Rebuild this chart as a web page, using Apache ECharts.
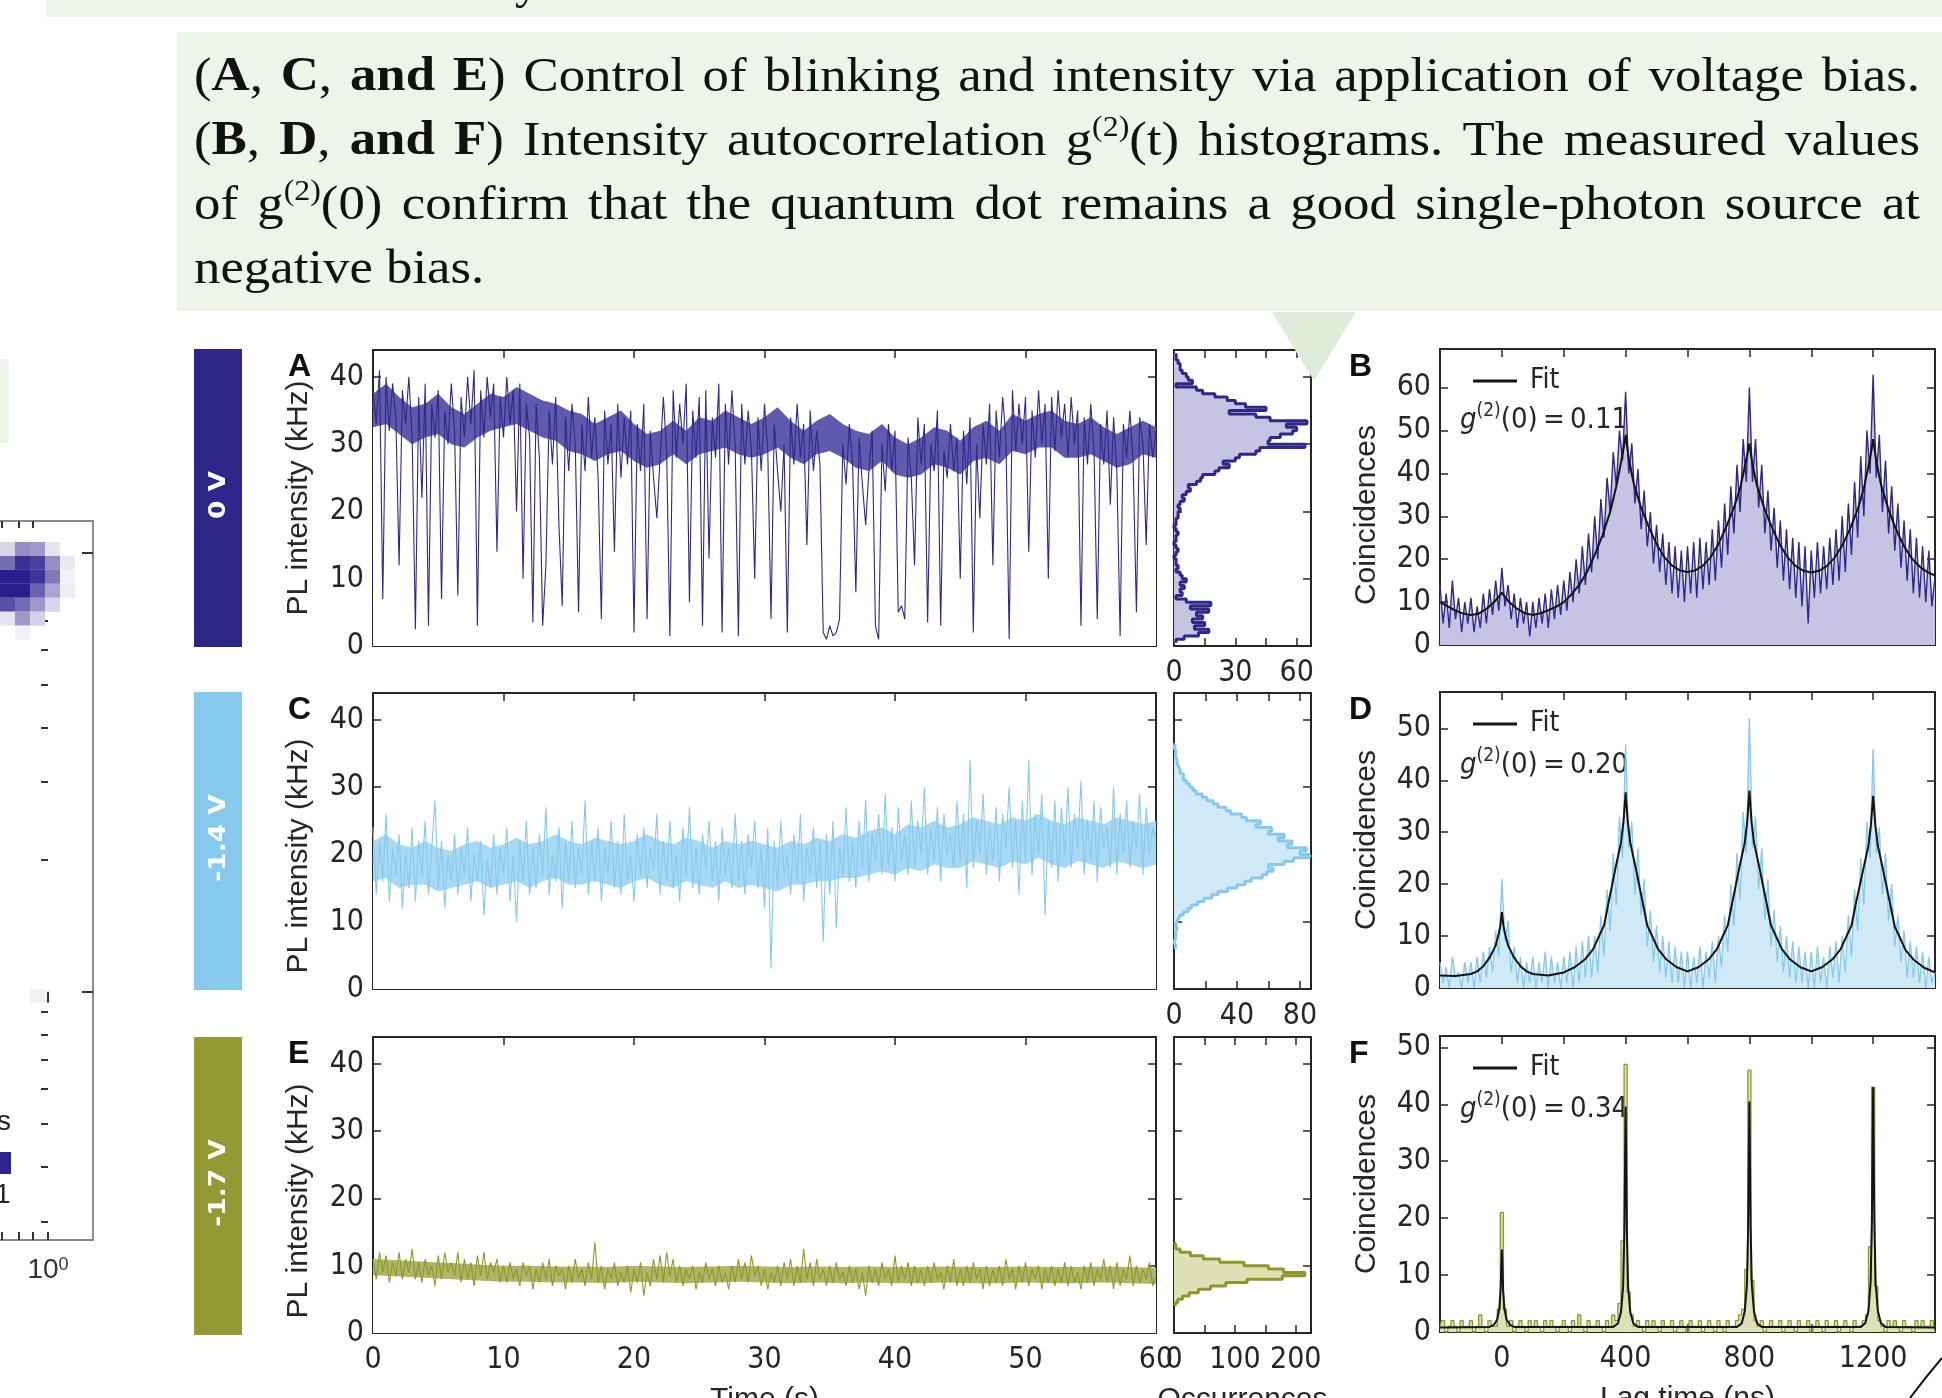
<!DOCTYPE html>
<html>
<head>
<meta charset="utf-8">
<script src="https://cdn.jsdelivr.net/npm/echarts@6/dist/echarts.min.js"></script>
<style>
html, body { margin: 0; padding: 0; background: #fff; }
#main { width: 1942px; height: 1398px; }
</style>
</head>
<body>
<div id="main"></div>
<script>
// ---- values ----
// PL intensity traces (kHz), one sample every 0.25 s from 0 to 60 s
var traceA = [
  38,33,41,7,40,32,39,34,12,38, 33,40,31,2.5,37,22,39,3,36,31,
  38,7,35,30,39,32,7.5,37,31,40, 33,41,3,38,31,40,34,39,14,37,
  31,40,33,38,20,39,10,36,31,3.5, 36,28,3,12,35,27,37,18,6,34,
  26,36,30,5,33,26,37,28,34,25, 4,35,27,33,14,36,25,34,27,35,
  2,33,26,36,4,32,25,19,28,37, 29,1.5,38,28,36,30,39,6.5,35,28,
  37,3,38,13,34,28,39,2,36,27, 38,30,1.5,36,27,35,29,10,34,26,
  36,29,4,33,26,20,30,2,34,27, 36,28,33,15,35,26,32,27,2,1,
  3,1.5,2,4,30,24,33,27,8,31, 24,18,26,32,3,1,30,23,33,26,
  32,5,6,4,31,25,12,34,27,33, 3.5,30,26,35,3,29,25,33,26,31,
  10,32,24,34,2,30,19,33,27,36, 12,35,28,37,31,1,38,29,36,30,
  37,14,35,28,38,30,36,10,37,29, 38,31,36,28,37,30,35,3,34,27,
  36,29,4,33,27,35,21,34,26,1.5, 33,28,35,27,5,34,30,15,33,28,
  32
];
var traceC = [
  24,14,22,16,26,13,21,17,23,12, 20,15,24,13,22,17,25,14,21,28,
  15,22,12,20,16,23,14,21,17,24, 13,20,16,22,11,19,15,23,14,21,
  17,24,13,20,10,22,16,25,14,21, 15,23,17,27,14,20,16,24,12,22,
  16,25,15,21,17,28,14,22,16,24, 13,21,17,25,15,22,14,26,16,20,
  13,23,17,24,15,21,18,26,14,22, 16,25,15,20,13,24,17,27,15,21,
  14,23,18,25,16,22,13,24,17,21, 15,26,16,22,14,23,18,25,15,21,
  12,24,3,22,15,25,17,20,14,23, 16,26,13,21,17,24,15,22,7,23,
  14,25,9,21,17,27,16,22,15,25, 18,28,16,23,19,26,17,29,18,24,
  16,27,19,23,17,28,18,25,20,30, 17,24,19,27,16,26,20,23,18,28,
  19,26,15,34,18,25,20,29,17,24, 19,27,16,26,21,30,18,25,14,28,
  19,34,17,26,20,29,11,25,18,28, 16,27,20,30,18,26,21,31,17,25,
  19,28,16,27,21,24,18,30,17,26, 20,28,18,25,21,29,17,27,20,24,
  22
];
var traceE = [
  11,8,12,9,11.5,7.5,10.5,8.5,12,8, 11,9,12.5,8,10.5,7.5,11,8.5,10,7,
  11.5,8,12,9,10.5,8.5,12,7.5,11,8, 10.5,7,11.5,8.5,12,8,10.5,9,11,7.5,
  10,7.5,10.5,8,9.5,7,10.5,8.5,10,6.5, 9.5,7.5,10.5,8,11,7,10,8.5,9.5,6.5,
  10,7.5,11,8,9.5,7,10.5,8,13.5,7.5, 10,6.5,9.5,8,10.5,7,9,7.5,10,6,
  9.5,7.5,10.5,5.5,9,7,11,8,11.5,7.5, 12,8.5,11,7.5,10,7,9.5,8,10,6.5,
  9,7.5,10.5,8,9.5,7,10,7.5,9,6.5, 10,7.5,11,8,10.5,7.5,11.5,8.5,10,7,
  9.5,6.5,9,7.5,10,7,10.5,8,11,7, 10,7.5,12.5,8,10.5,7,11,8,9.5,7,
  10,7.5,10.5,8,9,7,10,7.5,9.5,6.5, 9,5.5,10,7.5,9.5,7,10.5,8,9.5,7,
  11.5,7.5,10,8,10.5,7,10,7.5,9.5,7, 10,7.5,10.5,8,9,6.5,10,7.5,11,7,
  9.5,7,10,7.5,10.5,8,9.5,6.5,10,7, 9.5,7.5,10,7,11,8,9.5,6.5,10,7.5,
  10.5,7,9.5,8,10,6.5,9.5,7.5,10,7, 9.5,7.5,10.5,7,10,7.5,9,6.5,10,7.5,
  10.5,7,9.5,8,11,7.5,10,6.5,10.5,7, 9.5,8,11.5,7,10,7.5,9.5,8,10.5,7,
  8.5
];
// dense core of each trace (kHz): A and C every 1 s, E every 2 s, from 0 to 60 s
var coreHiA = [37.5,39,37,35.5,36,37.5,35.5,34.5,36,37.5, 37,38.5,37.5,36.5,36,35,34.5,33,34,35,
  33,31.5,32,33.5,32,34,33.5,35,34,33, 34,35.5,33.5,32,33.5,34.5,33,32,31.5,33,
  31,30,31,32.5,32,30.5,32.5,33.5,32,34.5, 33.5,34.5,35,33.5,33,34,32.5,31.5,32.5,33.5, 32.5];
var coreLoA = [32.5,33,31.5,30,31,31.5,30,29.5,31,32, 32.5,33,32,31,30.5,29,28.5,27.5,28.5,29,
  27.5,26.5,27,28.5,27,28.5,29,29.5,28.5,28, 28.5,29.5,28,27,28.5,29,28,26.5,26,27.5,
  25.5,25,25.5,27,26.5,25.5,27.5,28,27,29, 28.5,29.5,29.5,28,28,28.5,27.5,26.5,27,28.5, 28];
var coreHiC = [22,23,21.5,21,22,21,20.5,21.5,22,21, 21.5,22.5,21.5,22,23,22,21.5,22.5,22,21.5,
  22,23,22,21.5,22.5,22,21,22,21.5,22, 21.5,21,22,21.5,22.5,22,23,22.5,23.5,24,
  23,24.5,24,25,24,24.5,25.5,25,24.5,25.5, 25,26,25,24.5,25.5,25,24.5,25.5,25,24.5, 25];
var coreLoC = [16,16.5,15,15.5,15.5,14.5,15,15.5,16,15, 15.5,16,15,16,16.5,15.5,15.5,16,15.5,15,
  16,16.5,15.5,15,16,15.5,15,16,15,15.5, 15,14.5,15.5,15.5,16,16,16.5,16.5,17,17.5,
  17,18,17.5,18.5,18,18,19,18.5,18,19, 18.5,19.5,18.5,18,19,18.5,18,19,18.5,18, 18.5];
var coreHiE = [11,10.8,10.6,10.4,10.2,10,10,9.9,9.9,9.8,10,9.9,9.8,9.9,10,9.9,9.8,9.9,9.8,9.9,9.8,9.8,9.9,9.8,9.8,9.9,9.8,9.8,9.9,9.8,9.7];
var coreLoE = [8.6,8.4,8.2,8,7.8,7.6,7.6,7.5,7.5,7.4,7.6,7.5,7.4,7.5,7.6,7.5,7.4,7.5,7.4,7.5,7.4,7.4,7.5,7.4,7.4,7.5,7.4,7.4,7.5,7.4,7.3];
// occurrence histograms, 0.5 kHz bins from 0 to 44 kHz
var histA = [
  0,1,5,12,17,10,15,9,14,11, 17,8,18,6,1,4,3,5,3,6,
  4,3,1,2,1,1,0,1,2,1, 0,1,1,2,1,0,1,1,2,2,
  3,2,3,5,4,6,8,7,11,13, 14,20,22,27,24,30,32,40,42,64,
  46,47,52,58,60,55,65,47,40,27, 45,35,30,26,20,14,11,1,9,7,
  6,4,3,3,2,1,1,0
];
var histC = [
  0,0,0,0,0,0,0,0,0,0, 0,0,1,0,1,1,1,2,1,2,
  3,4,6,9,11,15,19,24,28,34, 40,45,49,56,59,63,60,70,76,86,
  80,84,72,75,66,70,60,62,52,55, 46,43,36,33,28,25,21,18,14,12,
  10,8,6,6,4,3,2,2,1,1, 1,0,1,0,0,0,0,0,0,0,
  0,0,0,0,0,0,0,0
];
var histE = [
  0,0,0,0,0,0,0,0,2,6, 14,25,40,60,85,120,178,215,180,155,
  115,75,48,27,10,3,1
];
// g2 coincidence histograms, one bin every 10 ns from -200 to 1400 ns
var g2B = [
  14,5,12,4,15,6,11,3,10,5, 11,3,9,4,12,5,13,7,15,8,
  18,9,14,6,12,4,11,5,10,2, 10,4,11,5,12,4,13,6,14,7,
  15,8,17,10,20,12,23,14,26,17, 30,20,34,25,39,31,45,37,50,43,
  59,40,47,33,41,27,36,23,31,19, 28,17,26,14,24,12,23,11,22,10,
  23,12,24,11,25,13,24,14,27,15, 29,18,33,21,37,26,42,31,48,38,
  60,38,48,32,42,26,36,22,32,18, 29,15,27,13,25,11,24,9,23,5,
  22,11,24,12,23,13,25,14,27,15, 30,17,33,21,38,25,44,30,50,40,
  63,39,49,31,43,26,37,22,33,18, 29,15,27,12,25,11,23,10,22,9,
  16
];
var g2D = [
  5,1,4,0,6,2,3,0,5,1, 5,0,6,1,7,2,8,3,11,6,
  21,9,13,3,8,1,6,0,5,1, 6,0,5,1,7,0,6,1,5,0,
  6,1,7,0,8,1,9,2,10,2, 10,3,14,6,19,11,26,16,33,25,
  47,27,32,18,27,14,21,8,15,5, 12,3,10,2,9,1,8,1,7,0,
  7,0,6,1,8,0,7,2,9,1, 10,4,14,7,20,12,26,17,34,26,
  52,27,33,19,27,13,21,8,15,5, 12,3,10,2,9,1,8,1,7,0,
  7,0,8,1,6,0,8,2,9,1, 10,3,14,6,19,11,25,16,32,25,
  46,26,31,18,26,13,20,8,14,5, 11,2,9,2,8,1,7,0,6,1,
  3
];
var g2F = [
  1,2,0,1,2,1,0,2,1,1, 2,0,1,3,1,0,2,1,1,4,
  21,4,1,2,0,1,2,1,0,2, 1,2,1,0,2,1,2,1,0,1,
  2,1,0,2,1,3,1,0,2,1, 1,2,1,0,2,1,3,2,5,16,
  47,7,3,1,2,1,0,2,1,2, 1,0,2,1,1,2,0,1,2,1,
  0,2,1,1,2,0,1,2,1,0, 2,1,0,2,1,1,2,3,4,11,
  46,9,2,1,2,0,1,2,1,1, 2,0,1,2,1,0,2,1,1,2,
  0,1,2,1,0,2,1,1,2,0, 1,2,1,0,2,1,1,2,3,15,
  43,8,2,1,0,2,1,2,1,0, 2,1,1,0,2,1,2,1,1,2,
  1
];
// fitted g2 curves, [lag (ns), coincidences]
var fitB = [
  [-200,10],[-175,9],[-150,8],[-125,7.3],[-100,7],[-75,7.3],[-50,8.4],[-25,10],[-10,11.3],[0,12.2],
  [10,11.2],[25,9.9],[50,8.4],[75,7.4],[100,7],[125,7.4],[150,8.1],[175,8.9],[200,10],[225,11.8],
  [250,14],[275,17],[300,21],[325,25.5],[350,31],[370,37],[385,42.5],[395,46.5],[400,49],[410,43.5],
  [425,38],[450,32],[475,27.5],[500,23.5],[525,20.5],[550,18.5],[575,17.4],[600,17],[625,17.4],[650,18.5],
  [675,20.5],[700,23.5],[725,27.5],[750,32],[770,36.5],[785,41.5],[795,45],[800,47],[810,42],[825,37],
  [850,31.5],[875,27],[900,23.2],[925,20.3],[950,18.4],[975,17.3],[1000,16.9],[1025,17.3],[1050,18.4],[1075,20.3],
  [1100,23.2],[1125,27],[1150,31.6],[1170,36.5],[1185,41.8],[1195,45.5],[1200,48],[1210,43],[1225,37.5],[1250,31.5],
  [1275,26.8],[1300,23],[1325,20.2],[1350,18.3],[1375,17],[1400,16.2]
];
var fitD = [
  [-200,2.4],[-150,2.3],[-100,2.7],[-80,3.2],[-60,4.2],[-38,6],[-20,8.2],[-10,10.5],[-5,12],[0,14.6],
  [5,12],[10,10.5],[20,8.2],[38,6],[60,4.2],[80,3.2],[100,2.7],[150,2.4],[200,3],[235,4],
  [270,5.6],[295,7.5],[318,10.5],[330,12],[345,16.5],[367,23],[385,28],[393,32],[400,37.7],[407,32],
  [415,28],[433,23],[455,16.5],[470,12],[482,10.5],[505,7.5],[530,5.6],[565,4],[600,3.2],[635,4],
  [670,5.6],[695,7.5],[718,10.5],[730,12],[745,16.5],[767,23],[785,28],[793,32],[800,38],[807,32],
  [815,28],[833,23],[855,16.5],[870,12],[882,10.5],[905,7.5],[930,5.6],[965,4],[1000,3.2],[1035,4],
  [1070,5.6],[1095,7.5],[1118,10.5],[1130,12],[1145,16.5],[1167,22.5],[1185,27.5],[1193,31.5],[1200,37],[1207,31.5],
  [1215,27.5],[1233,22.5],[1255,16.2],[1270,11.8],[1282,10.3],[1305,7.3],[1330,5.5],[1365,3.9],[1400,3]
];
var fitF = [
  [-200,0.8],[-40,0.9],[-25,1.3],[-15,2.2],[-8,4.2],[-4,7.5],[0,14.5],[4,7.5],[8,4.2],[15,2.2],[25,1.3],[40,0.9],
  [360,0.9],[375,1.5],[385,3.5],[392,8],[396,18],[400,39.6],[404,18],[408,8],[415,3.5],[425,1.5],[440,0.9],
  [760,0.9],[775,1.5],[785,3.6],[792,8.2],[796,18.5],[800,40.5],[804,18.5],[808,8.2],[815,3.6],[825,1.5],[840,0.9],
  [1160,0.9],[1175,1.6],[1185,3.8],[1192,8.8],[1196,19.5],[1200,43],[1204,19.5],[1208,8.8],[1215,3.8],[1225,1.6],[1240,0.9],[1400,0.8]
];
var g2zero = ['0.11', '0.20', '0.34'];
var voltages = ['0 V', '-1.4 V', '-1.7 V'];
var panelLetters = ['A', 'B', 'C', 'D', 'E', 'F'];
// cut-off intensity map at the far left: [column, row, weight]
var mapCells = [
  [0,0,0.18],[1,0,0.5],[2,0,0.45],[3,0,0.12],
  [0,1,0.65],[1,1,0.92],[2,1,0.85],[3,1,0.5],[4,1,0.1],
  [0,2,1],[1,2,1],[2,2,0.9],[3,2,0.6],[4,2,0.06],
  [0,3,1],[1,3,1],[2,3,0.7],[3,3,0.4],[4,3,0.08],
  [0,4,0.78],[1,4,0.65],[2,4,0.45],[3,4,0.18],
  [0,5,0.12],[1,5,0.45],[2,5,0.2],
  [1,6,0.06],[2,32,0.06]
];

var CAPTION = [
  '(*A*, *C*, *and E*) Control of blinking and intensity via application of voltage bias.',
  '(*B*, *D*, *and F*) Intensity autocorrelation g^(2)^(t) histograms. The measured values',
  'of g^(2)^(0) confirm that the quantum dot remains a good single-photon source at',
  'negative bias.'
];

// ---- styling ----
var INK = '#262626';
var NARROW = "'Liberation Sans Narrow','DejaVu Sans Condensed','Arial Narrow',sans-serif";
var SANS = "'Liberation Sans',Arial,sans-serif";
var SERIF = "'Liberation Serif','Times New Roman',serif";
var GREEN = '#EDF5EB';
var COL = {
  blue:  {line: '#2E2888', fill: '#C7C4E3', bar: '#2E2688', core: '#5F5AAB'},
  sky:   {line: '#86C9EC', fill: '#D0E9F7', bar: '#86C9EC', core: '#A9D9F2'},
  olive: {line: '#8C982A', fill: '#DEE1B6', bar: '#939A34', core: '#AEB767'}
};

var grids = [], xAxes = [], yAxes = [], series = [], graphics = [];

function baseAxis(o) {
  var a = {
    type: 'value',
    axisLine: {onZero: false, lineStyle: {color: INK, width: 2}},
    axisTick: {inside: true, length: 8, lineStyle: {color: INK, width: 1.5}},
    axisLabel: {show: false},
    splitLine: {show: false}
  };
  for (var k in o) a[k] = o[k];
  return a;
}
function tickLabel(fmt, margin) {
  return {show: true, formatter: fmt, fontFamily: NARROW, fontSize: 30, color: INK,
          margin: margin, showMinLabel: true, showMaxLabel: true};
}
function nameStyle(pad) { return {fontFamily: SANS, fontSize: 30, color: INK, padding: pad || 0}; }

// a boxed panel: axes on all four sides, ticks pointing in
function frame(box, xr, yr, o) {
  var gi = grids.length;
  grids.push({left: box[0], top: box[1], width: box[2], height: box[3], outerBoundsMode: 'none'});
  var xi = xAxes.length, yi = yAxes.length;
  xAxes.push(baseAxis({gridIndex: gi, min: xr[0], max: xr[1], interval: xr[2], position: 'bottom',
    axisLabel: o.xfmt ? tickLabel(o.xfmt, 12) : {show: false},
    name: o.xname || '', nameLocation: 'middle', nameGap: 52, nameTextStyle: nameStyle()}));
  xAxes.push(baseAxis({gridIndex: gi, min: xr[0], max: xr[1], interval: xr[2], position: 'top'}));
  yAxes.push(baseAxis({gridIndex: gi, min: yr[0], max: yr[1], interval: yr[2], position: 'left',
    axisLabel: o.yfmt ? tickLabel(o.yfmt, 9) : {show: false},
    name: o.yname || '', nameLocation: 'middle', nameGap: o.ygap || 58, nameTextStyle: nameStyle(o.ypad)}));
  yAxes.push(baseAxis({gridIndex: gi, min: yr[0], max: yr[1], interval: yr[2], position: 'right'}));
  return {g: gi, x: xi, y: yi};
}

var every10 = function (v) { return v % 10 === 0 ? String(v) : ''; };
var every = function (n) { return function (v) { return v % n === 0 ? String(v) : ''; }; };
var lagFmt = function (v) { return (v >= 0 && v <= 1200 && v % 400 === 0) ? String(v) : ''; };

var binLabels = [];
for (var k = 0; k < 88; k++) binLabels.push((k * 0.5 + 0.25).toFixed(2));

function timePairs(arr) { return arr.map(function (v, i) { return [i * 0.25, v]; }); }
function corePairs(arr) {
  var dt = 60 / (arr.length - 1);
  return arr.map(function (v, i) { return [i * dt, v]; });
}
function lagPairs(arr) { return arr.map(function (v, i) { return [-200 + 10 * i, v]; }); }
function histData(arr) {
  var out = [], first = -1, last = -1;
  for (var i = 0; i < arr.length; i++) if (arr[i] > 0) { if (first < 0) first = i; last = i; }
  for (var j = 0; j < 88; j++) out.push(j >= first && j <= last ? arr[j] : null);
  return out;
}

var rows = [
  {top: 350, trace: traceA, hi: coreHiA, lo: coreLoA, hist: histA, histMax: 67, histStep: 15, histLab: 30,
   g2: g2B, fit: fitB, g2Max: 69, g2Step: false, g2W: 1.4, col: COL.blue, bar: [349, 298], pad: [0, 0, 0, 0], gpad: [0, 36, 0, 0]},
  {top: 693, trace: traceC, hi: coreHiC, lo: coreLoC, hist: histC, histMax: 87, histStep: 20, histLab: 40,
   g2: g2D, fit: fitD, g2Max: 57, g2Step: false, g2W: 1.3, col: COL.sky, bar: [692, 298], pad: [0, 30, 0, 0], gpad: [0, 0, 0, 0]},
  {top: 1037, trace: traceE, hi: coreHiE, lo: coreLoE, hist: histE, histMax: 225, histStep: 50, histLab: 100,
   g2: g2F, fit: fitF, g2Max: 52, g2Step: 'middle', g2W: 1.3, col: COL.olive, bar: [1037, 298], pad: [0, 32, 0, 0], gpad: [0, 0, 0, 0]}
];

rows.forEach(function (r, ri) {
  var last = ri === 2;
  // time trace: dense core band (upper edge filled, lower edge masked white) under the sampled trace
  var pt = frame([373, r.top, 783, 296], [0, 60, 10], [0, 44, 10], {
    yfmt: every10, yname: 'PL intensity (kHz)', ygap: 59, ypad: r.pad,
    xfmt: last ? every10 : null, xname: last ? 'Time (s)' : ''
  });
  series.push({type: 'line', xAxisIndex: pt.x, yAxisIndex: pt.y, data: corePairs(r.hi),
    symbol: 'none', lineStyle: {opacity: 0}, areaStyle: {color: r.col.core, opacity: 1}, silent: true, z: 1});
  series.push({type: 'line', xAxisIndex: pt.x, yAxisIndex: pt.y, data: corePairs(r.lo),
    symbol: 'none', lineStyle: {opacity: 0}, areaStyle: {color: '#ffffff', opacity: 1}, silent: true, z: 2});
  series.push({type: 'line', xAxisIndex: pt.x, yAxisIndex: pt.y, data: timePairs(r.trace),
    symbol: 'none', lineStyle: {width: 1.1, color: r.col.line}, silent: true, z: 3});

  // occurrence histogram (horizontal)
  var ph = frame([1174, r.top, 137, 296], [0, r.histMax, r.histStep], [0, 44, 10], {
    xfmt: every(r.histLab), xname: last ? 'Occurrences' : ''
  });
  var catIdx = yAxes.length;
  yAxes.push({gridIndex: ph.g, type: 'category', data: binLabels, show: false});
  series.push({type: 'line', xAxisIndex: ph.x, yAxisIndex: catIdx, data: histData(r.hist),
    step: 'middle', symbol: 'none', lineStyle: {width: 3, color: r.col.line},
    areaStyle: {color: r.col.fill, opacity: 1}, silent: true});

  // g2 histogram with fit
  var pg = frame([1440, r.top - 1, 495, 296], [-200, 1400, 200], [0, r.g2Max, 10], {
    yfmt: every10, yname: 'Coincidences', ygap: 58, ypad: r.gpad,
    xfmt: last ? lagFmt : null, xname: last ? 'Lag time (ns)' : ''
  });
  series.push({type: 'line', xAxisIndex: pg.x, yAxisIndex: pg.y, data: lagPairs(r.g2),
    step: r.g2Step, symbol: 'none', lineStyle: {width: r.g2W, color: r.col.line},
    areaStyle: {color: r.col.fill, opacity: 1}, silent: true});
  series.push({type: 'line', name: 'Fit', color: '#141414', xAxisIndex: pg.x, yAxisIndex: pg.y,
    data: r.fit, symbol: 'none', lineStyle: {width: 2, color: '#141414'}, z: 5, silent: true});

  // voltage strip
  graphics.push({type: 'rect', shape: {x: 194, y: r.bar[0], width: 48, height: r.bar[1]},
    style: {fill: r.col.bar}});
  graphics.push({type: 'text', x: 219, y: r.bar[0] + r.bar[1] / 2 - 3, rotation: Math.PI / 2, scaleX: 1.15,
    style: {text: voltages[ri], fill: '#fff', font: 'bold 23px "DejaVu Sans", sans-serif',
      align: 'center', verticalAlign: 'middle'}});
  // panel letters
  graphics.push({type: 'text', x: 288, y: r.top + 1,
    style: {text: panelLetters[ri * 2], fill: '#111', font: 'bold 32px ' + SANS}});
  graphics.push({type: 'text', x: 1349, y: r.top + 1,
    style: {text: panelLetters[ri * 2 + 1], fill: '#111', font: 'bold 32px ' + SANS}});
  // g2(0) annotation
  graphics.push({type: 'text', x: 1460, y: r.top + 70 + (ri === 0 ? 0 : 2),
    style: {text: '{g|g}{s|(2)}{n|(0)\u2009=\u2009' + g2zero[ri] + '}', verticalAlign: 'middle',
      rich: {
        g: {fontFamily: NARROW, fontSize: 29, fontStyle: 'italic', fill: INK, lineHeight: 36},
        s: {fontFamily: NARROW, fontSize: 19, fill: INK, lineHeight: 34, verticalAlign: 'top'},
        n: {fontFamily: NARROW, fontSize: 29, fill: INK, lineHeight: 36}
      }}});
});

// ---- cut-off intensity map at the left edge ----
var gl = grids.length;
grids.push({left: 0, top: 521, width: 93, height: 719, outerBoundsMode: 'none'});
var lx = xAxes.length, ly = yAxes.length;
xAxes.push({gridIndex: gl, type: 'value', min: 0, max: 6.2, show: false});
yAxes.push({gridIndex: gl, type: 'value', min: -1.5, max: 50, inverse: true, show: false});
var logX = [Math.log10(0.49), Math.log10(1.95)];
var logY = [Math.log10(0.272), Math.log10(11.8)];
var minorY = [0.3,0.4,0.5,0.6,0.7,0.8,0.9,2,3,4,5,6,7,8,9].map(Math.log10);
var greyLine = {onZero: false, lineStyle: {color: '#8a8a8a', width: 2}};
xAxes.push({gridIndex: gl, type: 'value', min: logX[0], max: logX[1], position: 'top',
  axisLine: greyLine, splitLine: {show: false}, axisLabel: {show: false},
  axisTick: {inside: true, length: 7, customValues: [0.5, 0.65, 0.8].map(Math.log10), lineStyle: {color: '#333', width: 2}}});
xAxes.push({gridIndex: gl, type: 'value', min: logX[0], max: logX[1], position: 'top',
  axisLine: {show: false}, splitLine: {show: false}, axisLabel: {show: false},
  axisTick: {inside: true, length: 11, customValues: [0], lineStyle: {color: '#333', width: 2}}});
xAxes.push({gridIndex: gl, type: 'value', min: logX[0], max: logX[1], position: 'bottom',
  axisLine: greyLine, splitLine: {show: false},
  axisTick: {inside: true, length: 8, customValues: [0.5, 0.65, 0.8, 1].map(Math.log10), lineStyle: {color: '#333', width: 2}},
  axisLabel: {customValues: [0], margin: 16, formatter: function () { return '{b|10}{s|0}'; },
    rich: {b: {fontFamily: SANS, fontSize: 28, color: '#333'}, s: {fontFamily: SANS, fontSize: 18, color: '#333', verticalAlign: 'top', lineHeight: 20}}}});
yAxes.push({gridIndex: gl, type: 'value', min: logY[0], max: logY[1], position: 'right',
  axisLine: greyLine, splitLine: {show: false}, axisLabel: {show: false},
  axisTick: {inside: true, length: 11, customValues: [0, 1], lineStyle: {color: '#333', width: 2}}});
yAxes.push({gridIndex: gl, type: 'value', min: logY[0], max: logY[1], position: 'right',
  axisLine: {show: false}, splitLine: {show: false}, axisLabel: {show: false},
  axisTick: {inside: true, length: 7, customValues: minorY, lineStyle: {color: '#333', width: 2}}});
var mapSeries = series.length;
series.push({type: 'custom', xAxisIndex: lx, yAxisIndex: ly, data: mapCells, silent: true,
  renderItem: function (params, api) {
    var a = api.coord([api.value(0), api.value(1)]);
    var b = api.coord([api.value(0) + 1, api.value(1) + 1]);
    return {type: 'rect', shape: {x: a[0], y: Math.min(a[1], b[1]), width: b[0] - a[0], height: Math.abs(b[1] - a[1])},
      style: {fill: api.visual('color')}};
  }});

// ---- caption box ----
graphics.push({type: 'rect', shape: {x: 46, y: 0, width: 1896, height: 17}, style: {fill: GREEN}, z: -1});
graphics.push({type: 'text', x: 515, y: -15, style: {text: 'y', font: '48px ' + SERIF, fill: '#111', verticalAlign: 'middle'}});
graphics.push({type: 'rect', shape: {x: 177, y: 32, width: 1765, height: 279}, style: {fill: GREEN}, z: -1});
graphics.push({type: 'rect', shape: {x: 0, y: 359, width: 9, height: 84}, style: {fill: GREEN}, z: -1});
graphics.push({type: 'polygon', shape: {points: [[1272, 312], [1356, 312], [1314, 381]]}, style: {fill: '#DFECDA'}, z: 100});
graphics.push({type: 'bezierCurve', shape: {x1: 1910, y1: 1398, x2: 1942, y2: 1358, cpx1: 1925, cpy1: 1378}, style: {stroke: '#111', lineWidth: 2, fill: null}, z: 100});
// colour-scale fragments of the cut-off map
graphics.push({type: 'text', x: -3, y: 1108, style: {text: 's', font: '28px ' + SANS, fill: '#222'}});
graphics.push({type: 'rect', shape: {x: 0, y: 1152, width: 11, height: 22}, style: {fill: '#2E2290'}});
graphics.push({type: 'text', x: -5, y: 1181, style: {text: '1', font: '28px ' + SANS, fill: '#222'}});

// justified caption text
var CAP_SIZE = 48, CAP_SUP = 29, SX = 1.1, CAP_L = 194, CAP_R = 1920, CAP_TOP = 50, CAP_STEP = 64;
var mctx = document.createElement('canvas').getContext('2d');
function parseWords(line) {
  var words = [], cur = [], seg = null, bold = false, sup = false;
  function flush() { if (seg && seg.t) cur.push(seg); seg = null; }
  for (var i = 0; i < line.length; i++) {
    var ch = line[i];
    if (ch === '*') { flush(); bold = !bold; continue; }
    if (ch === '^') { flush(); sup = !sup; continue; }
    if (ch === ' ') { flush(); if (cur.length) words.push(cur); cur = []; continue; }
    if (!seg) seg = {t: '', b: bold, s: sup};
    seg.t += ch;
  }
  flush();
  if (cur.length) words.push(cur);
  return words;
}
function segWidth(s) {
  mctx.font = (s.b ? 'bold ' : '') + (s.s ? CAP_SUP : CAP_SIZE) + 'px ' + SERIF;
  return mctx.measureText(s.t).width;
}
var capRich = {
  n: {fontFamily: SERIF, fontSize: CAP_SIZE, fill: '#111', lineHeight: 56},
  b: {fontFamily: SERIF, fontSize: CAP_SIZE, fontWeight: 'bold', fill: '#111', lineHeight: 56},
  s: {fontFamily: SERIF, fontSize: CAP_SUP, fill: '#111', lineHeight: 30, verticalAlign: 'top'}
};
CAPTION.forEach(function (line, li) {
  var words = parseWords(line);
  var widths = words.map(function (w) {
    return w.reduce(function (acc, s) { return acc + segWidth(s); }, 0) * SX;
  });
  var total = widths.reduce(function (a, b) { return a + b; }, 0);
  var justify = li < CAPTION.length - 1;
  var gap = justify ? (CAP_R - CAP_L - total) / (words.length - 1) : 0.25 * CAP_SIZE * SX;
  var x = CAP_L;
  words.forEach(function (w, wi) {
    var txt = w.map(function (s) { return '{' + (s.s ? 's' : (s.b ? 'b' : 'n')) + '|' + s.t + '}'; }).join('');
    graphics.push({type: 'text', x: x, y: CAP_TOP + li * CAP_STEP, scaleX: SX,
      style: {text: txt, rich: capRich, verticalAlign: 'top'}});
    x += widths[wi] + gap;
  });
});

var legends = rows.map(function (r) {
  return {data: ['Fit'], left: 1468, top: r.top + 12, icon: 'rect', itemWidth: 44, itemHeight: 3,
    selectedMode: false, textStyle: {fontFamily: NARROW, fontSize: 28, color: INK, padding: [0, 0, 0, 8]}};
});

var chart = echarts.init(document.getElementById('main'));
chart.setOption({
  animation: false,
  backgroundColor: '#ffffff',
  textStyle: {fontFamily: NARROW},
  grid: grids,
  xAxis: xAxes,
  yAxis: yAxes,
  legend: legends,
  visualMap: {show: false, seriesIndex: mapSeries, dimension: 2, min: 0, max: 1,
    inRange: {color: ['#ffffff', '#2A1D8C']}},
  series: series,
  graphic: {elements: graphics}
});
</script>
</body>
</html>
